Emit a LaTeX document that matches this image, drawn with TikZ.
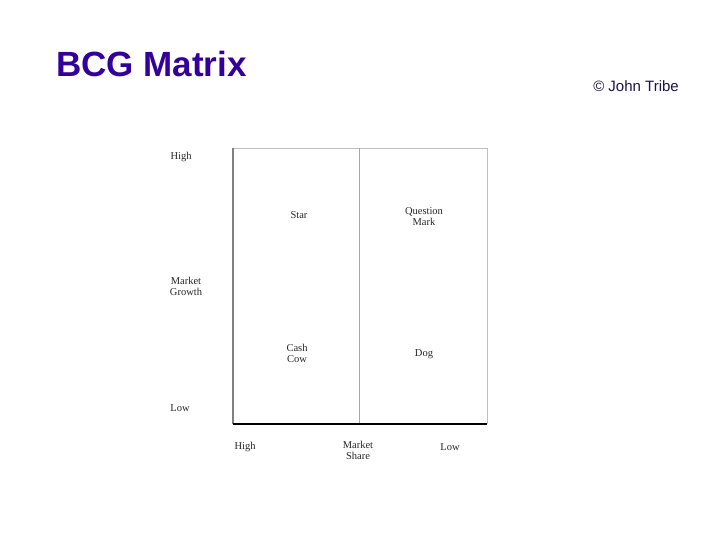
\documentclass[tikz,border=0pt]{standalone}
\usepackage{fontspec}
\setmainfont{Liberation Serif}
\newfontfamily\headfont{Liberation Sans}
\definecolor{titlepurple}{RGB}{51,0,153}
\definecolor{notenavy}{RGB}{25,20,70}

\begin{document}
\begin{tikzpicture} [x=1pt,y=-1pt]
\useasboundingbox (0,0) rectangle (720,540);
\tikzset{lbl/.style={font=\fontsize{10.5}{11}\selectfont, align=center, inner sep=0pt, text=black!85}}
\coordinate (TL) at (233,148);
\coordinate (TM) at (359,148);
\coordinate (TR) at (487,148);
\coordinate (BL) at (233,424);
\coordinate (BM) at (359,424);
\coordinate (BR) at (487,424);

\node [anchor=west, font=\headfont\bfseries\fontsize{35}{38}\selectfont, text=titlepurple, inner sep=0pt] (title) at (56,64) {BCG Matrix};
\node [anchor=east, font=\headfont\fontsize{15}{17}\selectfont, text=notenavy, inner sep=0pt] (author) at (679,86) {\textcopyright{} John Tribe};

\draw [black!25, line width=0.8pt] (TL)--(TR)--(BR);
\draw [black!35, line width=0.8pt] (TM)--(BM);
\draw [black!50, line width=1.4pt] (TL)--(BL);
\draw [black, line width=1.2pt] (BL)--(BR);

\node [lbl] (high) at (181,157) {High};
\node [lbl] (growth) at (186,286) {Market\\Growth};
\node [lbl] (low) at (180,408) {Low};

\node [lbl] (star) at (299,215) {Star};
\node [lbl] (question) at (424,217) {Question\\Mark};
\node [lbl] (cow) at (297,353) {Cash\\Cow};
\node [lbl] (dog) at (424,354) {Dog};

\node [lbl] (sharehigh) at (245,447) {High};
\node [lbl] (share) at (358,450) {Market\\Share};
\node [lbl] (sharelow) at (450,447) {Low};
\end{tikzpicture}
\end{document}
